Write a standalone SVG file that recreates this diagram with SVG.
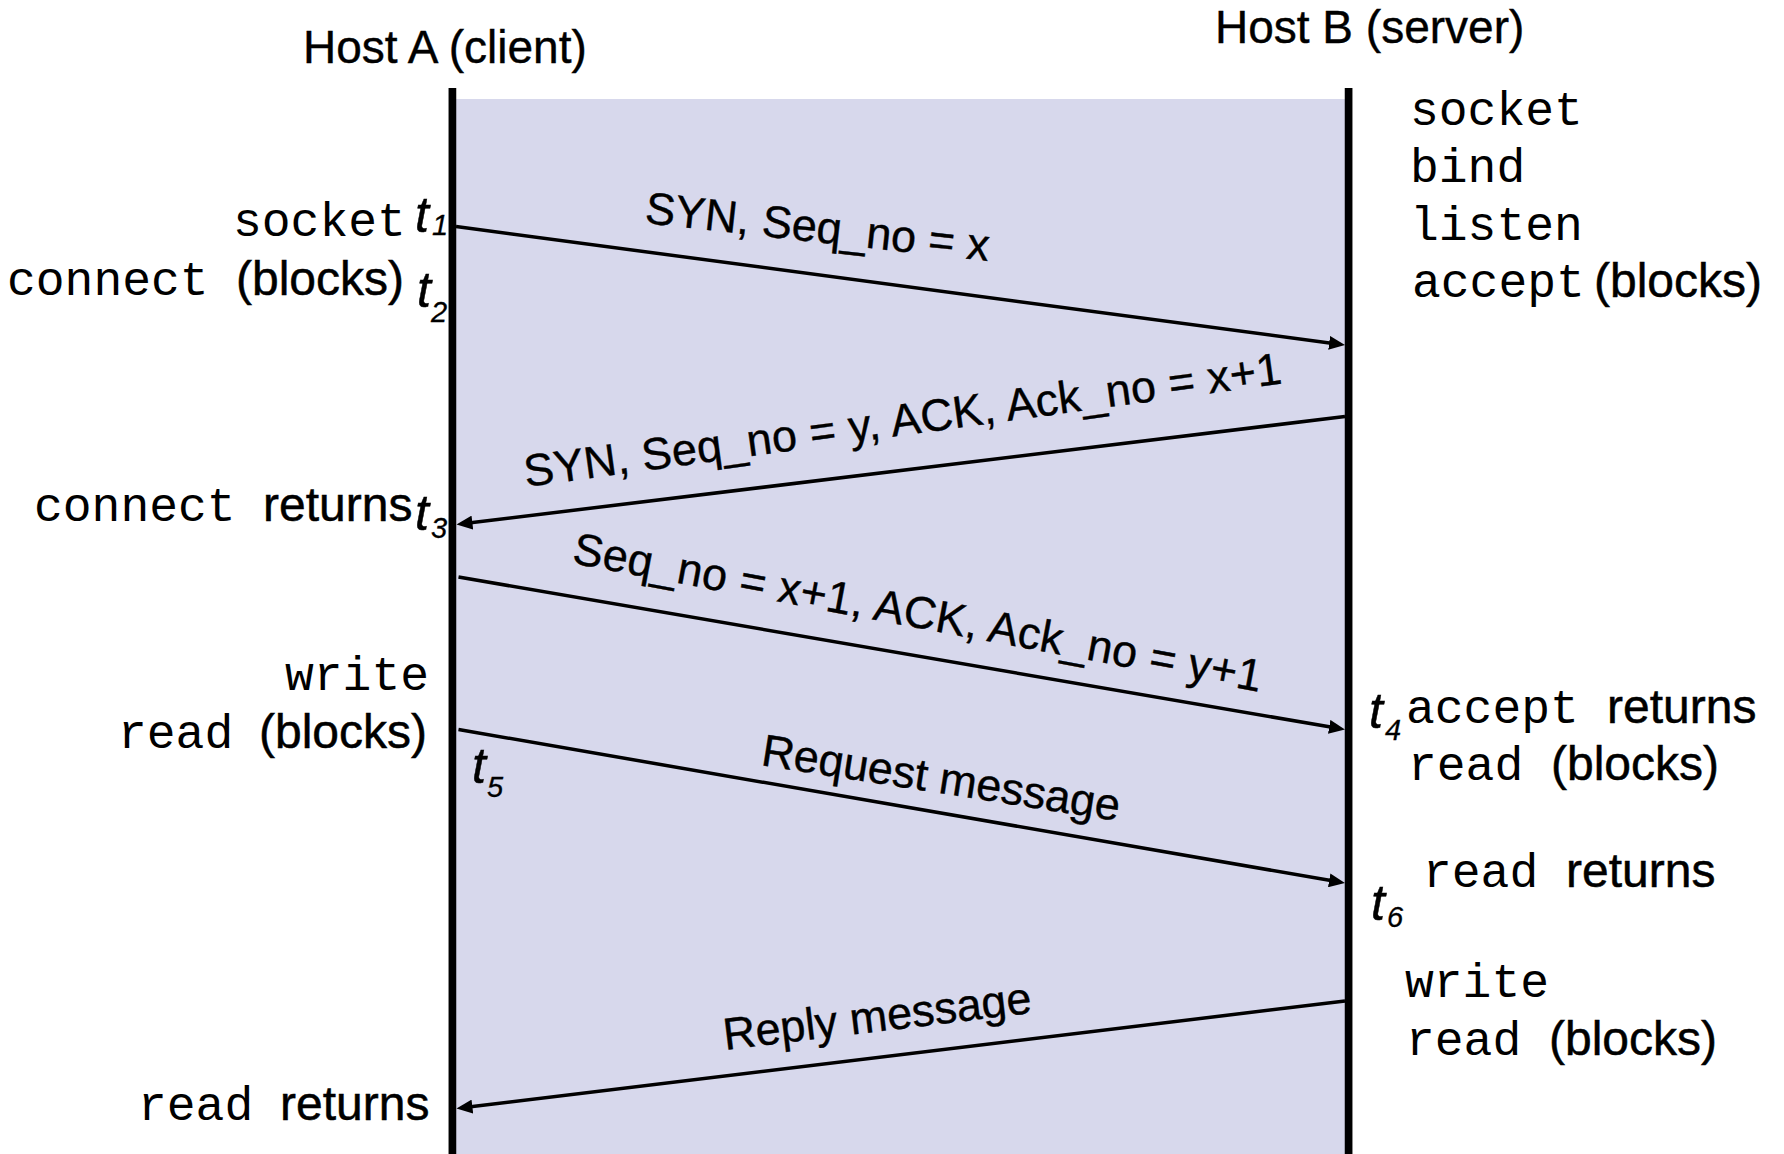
<svg xmlns="http://www.w3.org/2000/svg" width="1784" height="1154" viewBox="0 0 1784 1154">
  <style>
    text { fill: #000; }
    .sans { font-family: "Liberation Sans", Arial, sans-serif; font-size: 48px; stroke: #000; stroke-width: 0.5; }
    .title { font-family: "Liberation Sans", Arial, sans-serif; font-size: 46px; stroke: #000; stroke-width: 0.4; }
    .mono { font-family: "Liberation Mono", "Courier New", monospace; font-size: 48px; }
    .msg { font-family: "Liberation Sans", Arial, sans-serif; font-size: 45px; stroke: #000; stroke-width: 0.4; }
    .t { font-family: "Liberation Sans", Arial, sans-serif; font-style: italic; font-size: 50px; stroke: #000; stroke-width: 0.5; }
    .sub { font-family: "Liberation Sans", Arial, sans-serif; font-style: italic; font-size: 29px; stroke: #000; stroke-width: 0.3; }
    .life { stroke: #000; stroke-width: 7.7; fill: none; }
    .arrow { stroke: #000; stroke-width: 3.5; fill: none; marker-end: url(#ah); }
  </style>
  <defs>
    <marker id="ah" markerUnits="userSpaceOnUse" viewBox="0 0 16 14" markerWidth="16" markerHeight="14" refX="6" refY="7" orient="auto">
      <path d="M0,0 L16,7 L0,14 z" fill="#000"/>
    </marker>
  </defs>
  <rect width="1784" height="1154" fill="#fff"/>
  <rect x="452" y="99" width="897" height="1055" fill="#D7D8EC"/>

  <g id="hostA">
    <text class="title" x="303" y="63">Host A (client)</text>
    <line class="life" x1="452.4" y1="88" x2="452.4" y2="1154"/>
  </g>
  <g id="hostB">
    <text class="title" x="1215" y="43">Host B (server)</text>
    <line class="life" x1="1348.6" y1="88" x2="1348.6" y2="1154"/>
  </g>

  <g id="clientLabels">
    <text class="mono" x="233" y="236">socket</text>
    <text class="t" x="415" y="232">t</text><text class="sub" x="432" y="235">1</text>
    <text class="mono" x="7" y="295">connect</text>
    <text class="sans" x="236" y="295">(blocks)</text>
    <text class="t" x="417" y="307">t</text><text class="sub" x="431" y="322">2</text>
    <text class="mono" x="34" y="521">connect</text>
    <text class="sans" x="263" y="521">returns</text>
    <text class="t" x="415" y="530">t</text><text class="sub" x="431" y="538">3</text>
    <text class="mono" x="285" y="690">write</text>
    <text class="mono" x="118" y="748">read</text>
    <text class="sans" x="259" y="748">(blocks)</text>
    <text class="t" x="472" y="783">t</text><text class="sub" x="487" y="797">5</text>
    <text class="mono" x="138" y="1120">read</text>
    <text class="sans" x="280" y="1120">returns</text>
  </g>

  <g id="serverLabels">
    <text class="mono" x="1410" y="125">socket</text>
    <text class="mono" x="1410" y="182">bind</text>
    <text class="mono" x="1410" y="240">listen</text>
    <text class="mono" x="1412" y="297">accept</text>
    <text class="sans" x="1594" y="297">(blocks)</text>
    <text class="t" x="1369" y="728">t</text><text class="sub" x="1385" y="740">4</text>
    <text class="mono" x="1406" y="723">accept</text>
    <text class="sans" x="1607" y="723">returns</text>
    <text class="mono" x="1408" y="780">read</text>
    <text class="sans" x="1551" y="780">(blocks)</text>
    <text class="mono" x="1423" y="887">read</text>
    <text class="sans" x="1566" y="887">returns</text>
    <text class="t" x="1371" y="920">t</text><text class="sub" x="1387" y="927">6</text>
    <text class="mono" x="1405" y="997">write</text>
    <text class="mono" x="1406" y="1055">read</text>
    <text class="sans" x="1549" y="1055">(blocks)</text>
  </g>

  <g id="connectors">
    <line class="arrow" x1="456" y1="226.5" x2="1335.1" y2="343.7"/>
    <line class="arrow" x1="1345" y1="416.5" x2="466.4" y2="523.3"/>
    <line class="arrow" x1="458.5" y1="577" x2="1335.1" y2="727.8"/>
    <line class="arrow" x1="458.5" y1="729.5" x2="1335.1" y2="881.3"/>
    <line class="arrow" x1="1345" y1="1001" x2="466.4" y2="1107.3"/>
    <text class="msg" transform="translate(644,223) rotate(6.3)" textLength="346">SYN, Seq_no = x</text>
    <text class="msg" transform="translate(526,487) rotate(-7.8)" textLength="764">SYN, Seq_no = y, ACK, Ack_no = x+1</text>
    <text class="msg" transform="translate(571,563) rotate(10.6)" textLength="700">Seq_no = x+1, ACK, Ack_no = y+1</text>
    <text class="msg" transform="translate(760,765) rotate(8.9)" textLength="362">Request message</text>
    <text class="msg" transform="translate(725,1050) rotate(-6.9)" textLength="310">Reply message</text>
  </g>
</svg>
